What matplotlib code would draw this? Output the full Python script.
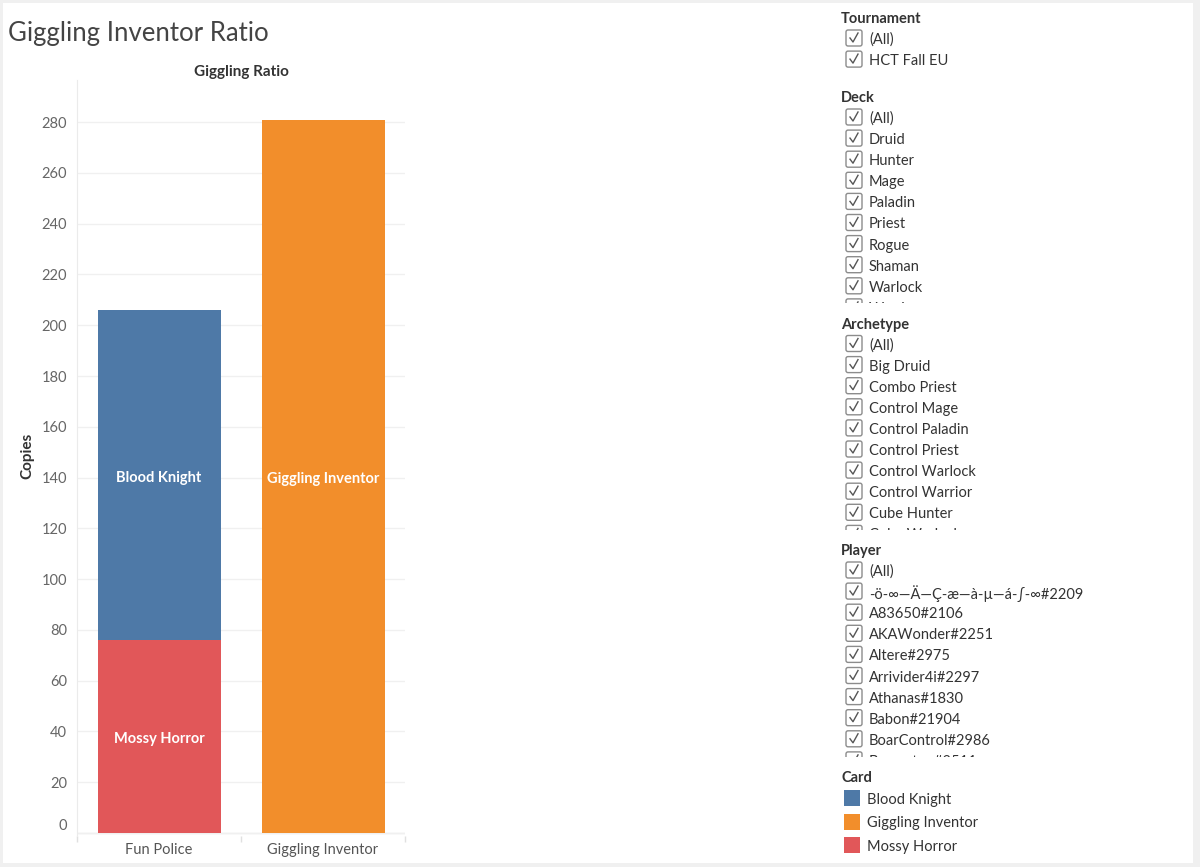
import matplotlib
matplotlib.use("Agg")
import matplotlib.pyplot as plt
from matplotlib.patches import Rectangle, FancyBboxPatch
from matplotlib.lines import Line2D

plt.rcParams['font.family'] = ['Lato', 'DejaVu Sans']

# chart data
categories = ["Fun Police", "Giggling Inventor"]
mossy_horror = [76, 0]
blood_knight = [130, 0]
giggling_inventor = [0, 281]

card_names = ["Blood Knight", "Giggling Inventor", "Mossy Horror"]
card_colors = ["#4e79a7", "#f28e2b", "#e15759"]

# filter lists
tournament_items = ["(All)", "HCT Fall EU"]
deck_items = ["(All)", "Druid", "Hunter", "Mage", "Paladin", "Priest",
              "Rogue", "Shaman", "Warlock", "Warrior"]
archetype_items = ["(All)", "Big Druid", "Combo Priest", "Control Mage",
                   "Control Paladin", "Control Priest", "Control Warlock",
                   "Control Warrior", "Cube Hunter", "Cube Warlock"]
player_items = ["(All)",
                "-\u00f6-\u221e\u2014\u00c4\u2014\u00c7-\u00e6\u2014\u00e0-\u00b5\u2014\u00e1-\u222b-\u221e#2209",
                "A83650#2106", "AKAWonder#2251", "Altere#2975",
                "Arrivider4i#2297", "Athanas#1830", "Babon#21904",
                "BoarControl#2986", "Bozzerton#2511"]

W, H = 1200, 867
fig = plt.figure(figsize=(W / 100, H / 100), dpi=100, facecolor="#f0f0f0")

# overlay in pixel coordinates for the dashboard parts
ov = fig.add_axes([0, 0, 1, 1], zorder=0)
ov.set_xlim(0, W)
ov.set_ylim(H, 0)
ov.axis("off")
ov.add_patch(Rectangle((3, 3), 1190, 860, facecolor="white", edgecolor="none"))

ov.text(8, 34, "Giggling Inventor Ratio", fontsize=18.5, fontweight="normal",
        color="#444444", va="center", ha="left")
ov.text(241, 72, "Giggling Ratio", fontsize=11, fontweight="bold",
        color="#333333", va="center", ha="center")

# main chart
ax = fig.add_axes([77 / W, (H - 836) / H, 328 / W, 756 / H], zorder=2)
ax.set_facecolor("none")
x = list(range(len(categories)))
ax.bar(x, mossy_horror, width=0.75, color=card_colors[2], zorder=3)
ax.bar(x, blood_knight, width=0.75, bottom=mossy_horror, color=card_colors[0], zorder=3)
ax.bar(x, giggling_inventor, width=0.75, color=card_colors[1], zorder=3)


def bar_label(xx, yy, s):
    ax.annotate(s, (xx, yy), xytext=(0, -3), textcoords="offset pixels",
                color="white", fontsize=10.5, fontweight="bold",
                ha="center", va="center", zorder=4)


for i in x:
    if mossy_horror[i]:
        bar_label(i, mossy_horror[i] / 2, "Mossy Horror")
    if blood_knight[i]:
        bar_label(i, mossy_horror[i] + blood_knight[i] / 2, "Blood Knight")
    if giggling_inventor[i]:
        bar_label(i, giggling_inventor[i] / 2, "Giggling Inventor")

ax.set_xlim(-0.5, 1.5)
ax.set_ylim(-1.2, 296.6)
ax.set_yticks(range(0, 281, 20))
ax.set_xticks(x)
ax.set_xticklabels(categories)
ax.set_xticks([-0.5, 0.5, 1.5], minor=True)
ax.tick_params(axis="y", length=0, pad=7, labelsize=10.5, labelcolor="#666666")
ax.tick_params(axis="x", which="major", length=0, pad=5, labelsize=10.5, labelcolor="#555555")
ax.tick_params(axis="x", which="minor", length=4, color="#e0e0e0", width=1)
ax.get_yticklabels()[0].set_va("bottom")
ax.yaxis.grid(True, color="#f0f0f0", lw=1, zorder=0)
ax.axhline(0, color="#e6e6e6", lw=1, zorder=1)
for s in ["top", "right", "bottom"]:
    ax.spines[s].set_visible(False)
ax.spines["left"].set_color("#ebebeb")
ax.set_ylabel("Copies", fontsize=11, fontweight="bold", color="#333333")
ax.yaxis.set_label_coords((34 - 77) / 328, (836 - 456) / 756)


# filter panel
def checkbox_row(y, label, clip=None):
    arts = []
    box = FancyBboxPatch((846, y - 8), 16, 16, boxstyle="round,pad=0,rounding_size=2",
                         facecolor="white", edgecolor="#8c8c8c", lw=1)
    ov.add_patch(box)
    arts.append(box)
    mark = Line2D([850, 853, 858], [y, y + 4, y - 5], color="#555555", lw=1)
    ov.add_line(mark)
    arts.append(mark)
    t = ov.text(869, y + 2, label, fontsize=10.5, color="#333333", va="center",
                ha="left", clip_on=True)
    arts.append(t)
    if clip is not None:
        for a in arts:
            a.set_clip_on(True)
            a.set_clip_path(clip)


def filter_section(title, items, head_y, first_y, clip_bottom=None, step=21.1):
    ov.text(841, head_y + 2, title, fontsize=10.5, fontweight="bold", color="#333333",
            va="center", ha="left")
    clip = None
    if clip_bottom is not None:
        clip = Rectangle((835, head_y + 8), 360, clip_bottom - head_y - 8,
                         transform=ov.transData)
    for k, item in enumerate(items):
        yy = first_y + k * step
        if clip_bottom is not None and yy - 8 > clip_bottom:
            break
        checkbox_row(yy, item, clip)


filter_section("Tournament", tournament_items, 17, 38)
filter_section("Deck", deck_items, 96, 117, clip_bottom=303)
filter_section("Archetype", archetype_items, 323, 343.5, clip_bottom=530)
filter_section("Player", player_items, 549, 570, clip_bottom=757)

# colour legend
ov.text(841, 778, "Card", fontsize=10.5, fontweight="bold", color="#333333",
        va="center", ha="left")
for k, (name, col) in enumerate(zip(card_names, card_colors)):
    yy = 798 + k * 23.5
    ov.add_patch(Rectangle((844, yy - 8), 16, 16, facecolor=col, edgecolor="none"))
    ov.text(867, yy + 2, name, fontsize=10.5, color="#333333", va="center", ha="left")

fig.savefig("out.png", dpi=100, facecolor=fig.get_facecolor())
